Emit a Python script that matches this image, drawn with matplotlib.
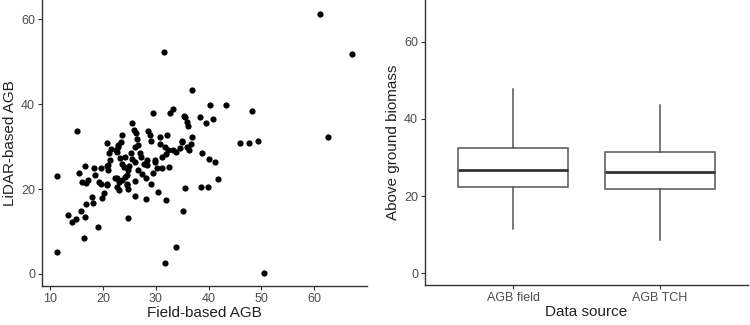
import matplotlib
matplotlib.use("Agg")
import matplotlib.pyplot as plt

plt.rcParams['font.family'] = ['Liberation Sans', 'DejaVu Sans']

field_agb = [11.4, 11.4, 13.5, 14.1, 14.9, 15.2, 15.5, 15.9, 16.1, 16.5, 16.7, 16.7, 16.8, 16.9, 17.2,
             17.9, 18.2, 18.4, 18.6, 19.1, 19.3, 19.6, 19.9, 20.3, 20.7, 20.8, 21.0, 21.0, 21.3, 21.2,
             20.7, 21.5, 22.5, 22.9, 22.3, 22.6, 23.0, 23.0, 23.6, 24.2, 24.5, 24.7, 24.7, 24.5, 26.1,
             28.1, 30.5, 31.9, 31.7, 33.9, 35.1, 35.5, 29.1, 28.1, 29.5, 31.1, 32.5, 29.8, 28.3, 26.7,
             26.1, 24.8, 23.6, 22.6, 24.6, 29.5, 32.7, 33.3, 35.6, 36.0, 36.9, 31.55, 61.1, 67.2, 62.5,
             40.2, 43.2, 48.2, 35.3, 38.4, 39.5, 40.8, 36.1, 36.9, 36.7, 34.9, 36.3, 46.0, 47.7, 49.3,
             38.7, 40.0, 41.2, 41.8, 38.5, 39.9, 50.5, 25.6, 25.9, 26.2, 26.4, 26.7, 26.1, 23.7, 23.4,
             22.9, 22.6, 28.6, 28.9, 29.1, 30.8, 32.2, 30.8, 31.7, 32.4, 33.3, 34.9, 34.6, 36.0, 25.3,
             24.2, 27.0, 27.3, 28.3, 29.8, 31.1, 31.9, 33.8, 23.2, 25.0, 27.5, 26.0, 27.8, 25.5, 30.2,
             24.0, 19.6, 20.8]
lidar_agb = [23.1, 5.2, 13.9, 12.3, 12.9, 33.6, 23.7, 14.8, 21.7, 8.4, 25.4, 13.5, 16.5, 21.5, 22.1,
             18.2, 16.8, 24.9, 23.3, 11.0, 21.7, 24.9, 17.8, 19.1, 20.9, 21.3, 24.5, 25.6, 26.8, 28.4,
             30.9, 29.4, 29.2, 30.4, 22.5, 20.5, 21.7, 19.8, 22.1, 22.8, 21.3, 13.1, 19.9, 20.9, 18.4,
             17.6, 19.4, 17.4, 2.5, 6.4, 14.9, 20.2, 21.3, 22.5, 23.7, 24.9, 25.1, 26.4, 25.6, 24.5,
             26.4, 24.5, 26.0, 22.5, 23.3, 38.0, 38.0, 38.8, 37.0, 35.8, 43.3, 52.2, 61.1, 51.9, 32.3,
             39.7, 39.7, 38.4, 37.2, 36.9, 35.6, 36.6, 34.8, 32.2, 30.6, 31.4, 29.3, 30.8, 30.8, 31.3,
             28.5, 27.1, 26.3, 22.4, 20.5, 20.5, 0.3, 35.6, 34.0, 33.1, 31.7, 30.4, 30.0, 32.7, 31.1,
             30.0, 28.8, 33.7, 32.7, 31.4, 32.3, 32.7, 30.7, 30.0, 29.2, 29.3, 31.1, 29.6, 30.0, 28.5,
             27.6, 28.5, 27.5, 26.8, 26.8, 27.6, 28.2, 28.8, 27.2, 25.5, 23.5, 22.0, 26.0, 27.0, 25.0,
             25.2, 21.3, 25.4]

box_labels = ["AGB field", "AGB TCH"]
box_q1 = [22.3, 21.8]
box_med = [26.9, 26.3]
box_q3 = [32.6, 31.5]
box_lo = [11.6, 8.6]
box_hi = [47.7, 43.6]

TICK_C = '#4D4D4D'
AX_C = '#333333'

fig = plt.figure(figsize=(7.5, 3.25), dpi=100)
ax1 = fig.add_axes([0.056, 0.121, 0.433, 0.879])
ax2 = fig.add_axes([0.5667, 0.123, 0.4307, 0.877])

def style(ax):
    for s in ['top', 'right']:
        ax.spines[s].set_visible(False)
    for s in ['left', 'bottom']:
        ax.spines[s].set_color(AX_C)
        ax.spines[s].set_linewidth(1.0)
    ax.tick_params(axis='both', colors=AX_C, labelcolor=TICK_C, labelsize=9, length=3, width=0.8, pad=2)

ax1.scatter(field_agb, lidar_agb, s=20, color='black', linewidths=0)
ax1.set_xlim(8.5, 69.9)
ax1.set_ylim(-2.75, 64.5)
ax1.set_xticks([10, 20, 30, 40, 50, 60])
ax1.set_yticks([0, 20, 40, 60])
ax1.set_xlabel("Field-based AGB", fontsize=11, color='#222222', labelpad=1)
ax1.set_ylabel("LiDAR-based AGB", fontsize=11, color='#222222', labelpad=3)
style(ax1)

stats = []
for i in range(len(box_labels)):
    stats.append(dict(label=box_labels[i], q1=box_q1[i], med=box_med[i], q3=box_q3[i],
                      whislo=box_lo[i], whishi=box_hi[i], fliers=[]))
ax2.bxp(stats, positions=[1, 2], widths=0.75, showfliers=False, showcaps=False, patch_artist=True,
        boxprops=dict(facecolor='white', edgecolor='#555555', linewidth=1.1),
        whiskerprops=dict(color='#555555', linewidth=1.1),
        medianprops=dict(color='#333333', linewidth=2.0))
ax2.set_xlim(0.4, 2.6)
ax2.set_ylim(-3.0, 70.8)
ax2.set_yticks([0, 20, 40, 60])
ax2.set_xlabel("Data source", fontsize=11, color='#222222', labelpad=1)
ax2.set_ylabel("Above ground biomass", fontsize=11, color='#222222', labelpad=3)
style(ax2)

fig.savefig("out.png", dpi=100)
